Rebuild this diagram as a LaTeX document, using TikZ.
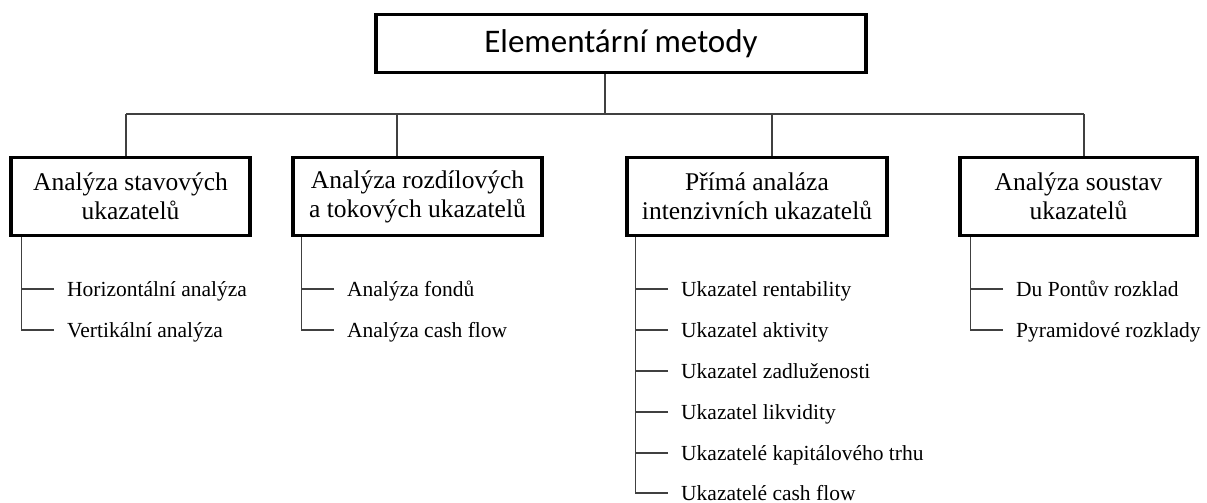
\documentclass[tikz,border=0pt]{standalone}
\usepackage{fontspec}
\setmainfont{Liberation Serif}
\newfontfamily\titlefont{Carlito}
\begin{document}
\begin{tikzpicture}[x=1pt,y=-1pt,
  link/.style={draw=black!75,line width=1.2pt},
  headbox/.style={draw=black,line width=3.5pt,inner sep=0pt,align=center,
    minimum height=78pt,font=\fontsize{25.5}{29}\selectfont},
  titlebox/.style={draw=black,line width=3.5pt,inner sep=0pt,
    minimum width=490pt,minimum height=58pt,font=\titlefont\fontsize{33}{38}\selectfont},
  itemtext/.style={anchor=west,inner sep=0pt,text height=20pt,text depth=5pt,
    font=\fontsize{21.5}{25}\selectfont}]
\useasboundingbox (0,0) rectangle (1207,503);

% top level
\node[titlebox] (title) at (621,43.5) {Elementární metody};

% second level
\node[headbox,minimum width=239pt] (b1) at (130.5,196.5) {Analýza stavových\\ukazatelů};
\node[headbox,minimum width=249pt] (b2) at (417.5,196.5) {Analýza rozdílových\\a tokových ukazatelů};
\node[headbox,minimum width=260pt] (b3) at (757,196.5) {Přímá analáza\\intenzivních ukazatelů};
\node[headbox,minimum width=237pt] (b4) at (1078.5,196.5) {Analýza soustav\\ukazatelů};

% bus between the levels
\coordinate (j0) at (605,114);
\coordinate (d1) at (126,114);
\coordinate (d2) at (397,114);
\coordinate (d3) at (772,114);
\coordinate (d4) at (1084,114);
\draw[link] (title.south -| j0) -- (j0);
\draw[link] (d1) -- (d4);
\draw[link] (d1) -- (d1 |- b1.north);
\draw[link] (d2) -- (d2 |- b2.north);
\draw[link] (d3) -- (d3 |- b3.north);
\draw[link] (d4) -- (d4 |- b4.north);

% items
\node[itemtext] (i11) at (67,289) {Horizontální analýza};
\node[itemtext] (i12) at (67,330) {Vertikální analýza};

\node[itemtext] (i21) at (347,289) {Analýza fondů};
\node[itemtext] (i22) at (347,330) {Analýza cash flow};

\node[itemtext] (i31) at (681,289) {Ukazatel rentability};
\node[itemtext] (i32) at (681,330) {Ukazatel aktivity};
\node[itemtext] (i33) at (681,371) {Ukazatel zadluženosti};
\node[itemtext] (i34) at (681,412) {Ukazatel likvidity};
\node[itemtext] (i35) at (681,453) {Ukazatelé kapitálového trhu};
\node[itemtext] (i36) at (681,493) {Ukazatelé cash flow};

\node[itemtext] (i41) at (1016,289) {Du Pontův rozklad};
\node[itemtext] (i42) at (1016,330) {Pyramidové rozklady};

% branch lines with ticks
\draw[link] ([xshift=12pt]b1.south west) |- ([xshift=-13pt]i12.west);
\draw[link] ([xshift=-13pt]i11.west) -- ([xshift=-45pt]i11.west);

\draw[link] ([xshift=10pt]b2.south west) |- ([xshift=-13pt]i22.west);
\draw[link] ([xshift=-13pt]i21.west) -- ([xshift=-45pt]i21.west);

\draw[link] ([xshift=10pt]b3.south west) |- ([xshift=-13pt]i36.west);
\foreach \n in {i31,i32,i33,i34,i35}
  \draw[link] ([xshift=-13pt]\n.west) -- ([xshift=-45pt]\n.west);

\draw[link] ([xshift=12pt]b4.south west) |- ([xshift=-13pt]i42.west);
\draw[link] ([xshift=-13pt]i41.west) -- ([xshift=-45pt]i41.west);
\end{tikzpicture}
\end{document}
